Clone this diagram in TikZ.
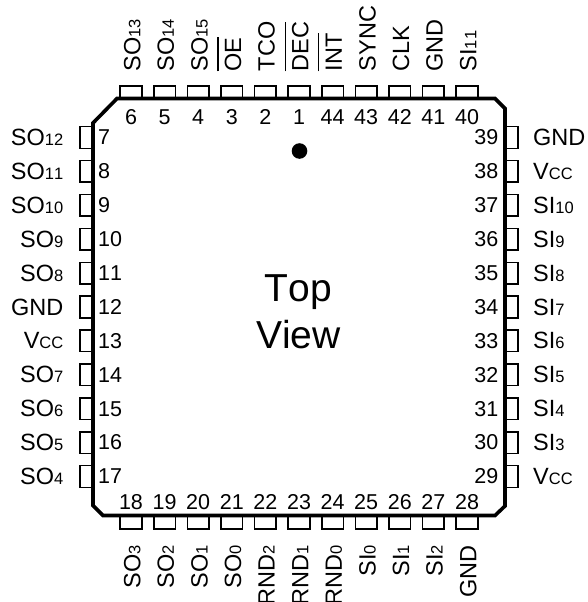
\documentclass[tikz,border=0pt]{standalone}
\usepackage{fontspec}
\setmainfont[Kerning=Off]{Liberation Sans}
\newcommand{\ovl}[1]{\leavevmode\setbox0\hbox{#1}\rlap{\rule[22.5pt]{\wd0}{1.3pt}}\box0}
\newcommand{\sbs}[1]{{\fontsize{16.5}{16.5}\selectfont #1}}
\tikzset{
  body/.style={line width=3.6pt,line join=miter},
  pin/.style={draw=black,line width=1.5pt,fill=white},
  pinnum/.style={font=\fontsize{21.5}{23}\selectfont,inner sep=0pt},
  lab/.style={font=\fontsize{23.5}{26}\selectfont,inner sep=0pt},
  big/.style={font=\fontsize{39}{47}\selectfont,inner sep=0pt,anchor=base}
}
\begin{document}
\begin{tikzpicture}[x=1pt,y=-1pt]
\useasboundingbox (0,0) rectangle (587,602);
\clip (0,0) rectangle (587,602);
% top pins and labels
\foreach \n/\lbl [count=\i from 0] in {6/SO\sbs{13},5/SO\sbs{14},4/SO\sbs{15},3/\ovl{OE},2/TCO,1/\ovl{DEC},44/\ovl{INT},43/SYNC,42/CLK,41/GND,40/SI\sbs{11}}{
  \pgfmathsetmacro{\xx}{131+33.6*\i}
  \draw[pin] (\xx-10.8,98) rectangle (\xx+10.8,86);
  \node[pinnum,anchor=base] (n\n) at (\xx,124) {\n};
  \node[lab,rotate=90,anchor=base west] (l\n) at (\xx+9.3,71.5) {\lbl};
}
% bottom pins and labels
\foreach \n/\lbl [count=\i from 0] in {18/SO\sbs{3},19/SO\sbs{2},20/SO\sbs{1},21/SO\sbs{0},22/RND\sbs{2},23/RND\sbs{1},24/RND\sbs{0},25/SI\sbs{0},26/SI\sbs{1},27/SI\sbs{2},28/GND}{
  \pgfmathsetmacro{\xx}{131+33.6*\i}
  \draw[pin] (\xx-10.8,516) rectangle (\xx+10.8,529);
  \node[pinnum,anchor=base] (n\n) at (\xx,509) {\n};
  \node[lab,rotate=90,anchor=base east] (l\n) at (\xx+9.3,545) {\lbl};
}
% left pins and labels
\foreach \n/\lbl [count=\i from 0] in {7/SO\sbs{12},8/SO\sbs{11},9/SO\sbs{10},10/SO\sbs{9},11/SO\sbs{8},12/GND,13/V\sbs{CC},14/SO\sbs{7},15/SO\sbs{6},16/SO\sbs{5},17/SO\sbs{4}}{
  \pgfmathsetmacro{\yy}{137.5+33.9*\i}
  \draw[pin] (92,\yy-10.8) rectangle (80,\yy+10.8);
  \node[pinnum,anchor=base west] (n\n) at (98,\yy+7.3) {\n};
  \node[lab,anchor=base east] (l\n) at (63.5,\yy+8) {\lbl};
}
% right pins and labels
\foreach \n/\lbl [count=\i from 0] in {39/GND,38/V\sbs{CC},37/SI\sbs{10},36/SI\sbs{9},35/SI\sbs{8},34/SI\sbs{7},33/SI\sbs{6},32/SI\sbs{5},31/SI\sbs{4},30/SI\sbs{3},29/V\sbs{CC}}{
  \pgfmathsetmacro{\yy}{137.5+33.9*\i}
  \draw[pin] (505,\yy-10.8) rectangle (518,\yy+10.8);
  \node[pinnum,anchor=base east] (n\n) at (498.5,\yy+7.3) {\n};
  \node[lab,anchor=base west] (l\n) at (533,\yy+8) {\lbl};
}
% package outline
\draw[body] (117,98.5) -- (495,98.5) -- (505,108.5) -- (505,506) -- (495,515.5) -- (103,515.5) -- (93,505.5) -- (93,123) -- cycle;
\fill (299.5,151) circle (7.8);
\node[big] (top) at (298.5,301) {Top};
\node[big] (view) at (298.5,348) {View};
\end{tikzpicture}
\end{document}
